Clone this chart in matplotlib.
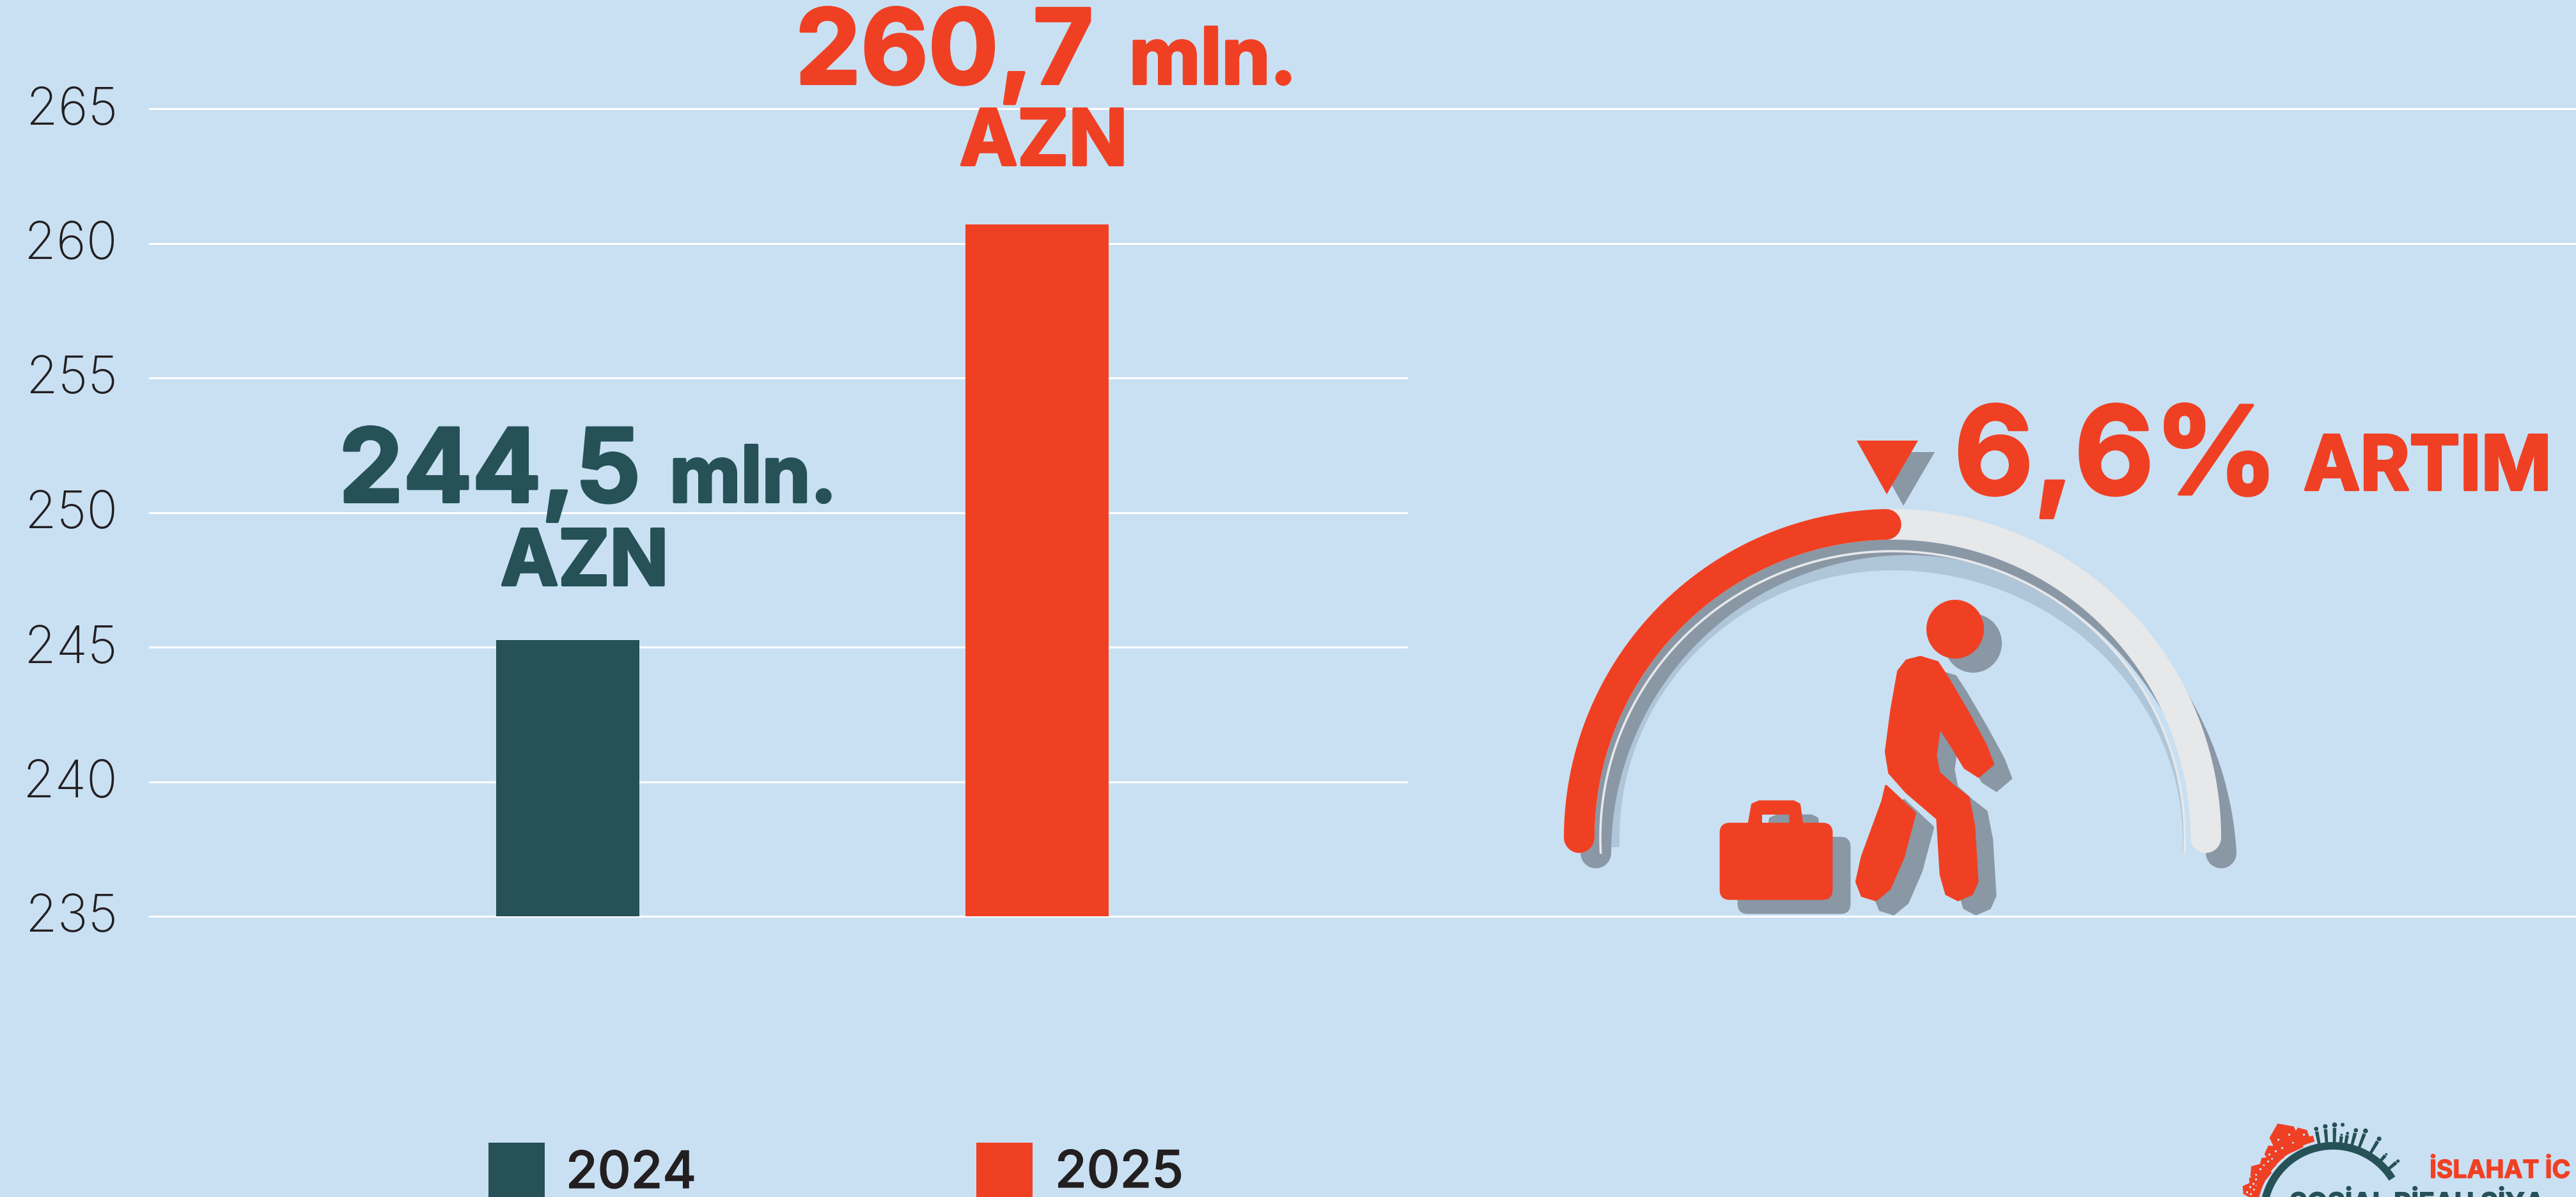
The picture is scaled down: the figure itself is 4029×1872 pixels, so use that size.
import numpy as np
import matplotlib
matplotlib.use('Agg')
import matplotlib.pyplot as plt
import matplotlib.patheffects as pe
from matplotlib.patches import Polygon, Rectangle, Circle, Ellipse, FancyBboxPatch
from matplotlib.transforms import ScaledTranslation

# chart data
years = ['2024', '2025']
bar_values = [245.27, 260.7]
value_labels = ['244,5', '260,7']
y_ticks = [235, 240, 245, 250, 255, 260, 265]
full_width_grid = [235, 260, 265]

# colours
BG = '#c9e0f3'
RED = '#f04023'
DARK = '#255157'
INK = '#231f20'
SHADOW = '#8a97a5'
SHADOW_LIGHT = '#afc5d8'
TRACK = '#e6e8ea'

W, H = 4030, 1872
HEAVY = 'Inter'

fig = plt.figure(figsize=(W / 100, H / 100), dpi=100, facecolor=BG)

# main chart axes, lined up with the gridlines of the picture
AX_L, AX_T, AX_B = 234, 170, 1433
ax = fig.add_axes([AX_L / W, (H - AX_B) / H, (W - AX_L) / W, (AX_B - AX_T) / H])
ax.set_facecolor(BG)
BAR_STEP = 734.5
ax.set_xlim((AX_L - 888) / BAR_STEP, (W - 888) / BAR_STEP)
ax.set_ylim(235, 265)
for s in ax.spines.values():
    s.set_visible(False)
ax.set_xticks([])
ax.set_yticks(y_ticks)
ax.set_yticklabels([str(t) for t in y_ticks], family='Inter', fontweight='light', fontsize=58, color=INK)
ax.tick_params(axis='y', length=0, pad=36)
for lab in ax.get_yticklabels():
    lab.set_transform(lab.get_transform() + ScaledTranslation(0, 5 / 100, fig.dpi_scale_trans))

short_end = (2200 - AX_L) / (W - AX_L)
for t in y_ticks:
    xmax = 1 if t in full_width_grid else short_end
    ax.axhline(t, xmin=0, xmax=xmax, color='white', lw=2.2, zorder=1, clip_on=False)
ax.bar(range(2), np.array(bar_values) - 235, bottom=235, width=224 / BAR_STEP,
       color=[DARK, RED], zorder=2)

# overlay in picture pixels for the labels and the icons
ov = fig.add_axes([0, 0, 1, 1], zorder=5)
ov.set_xlim(0, W)
ov.set_ylim(H, 0)
ov.axis('off')


def label(x, y, s, size, color, weight='bold', family=HEAVY, fat=3.0):
    t = ov.text(x, y, s, fontsize=size, color=color, fontweight=weight, family=family,
                ha='left', va='baseline')
    if fat:
        t.set_path_effects([pe.withStroke(linewidth=fat, foreground=color)])


# value labels
label(530, 785, value_labels[0], 115, DARK)
label(1047, 785, 'mln.', 88, DARK)
label(783, 915, 'AZN', 87, DARK)
label(1244, 131, value_labels[1], 117, RED)
label(1766, 131, 'mln.', 88, RED)
label(1501, 258, 'AZN', 87, RED)

# percent label
label(3056, 773, '6,6%', 138, RED)
label(3603, 766, 'ARTIM', 85, RED)

# legend, cut by the bottom edge like the original
ov.add_patch(Rectangle((764, 1787), 88, 90, color=DARK, lw=0))
ov.add_patch(Rectangle((1527, 1787), 88, 90, color=RED, lw=0))
label(885, 1858, years[0], 58, INK, 'medium', fat=0.8)
label(1650, 1857, years[1], 58, INK, 'medium', fat=0.8)

# gauge
CX, CY, R = 2960, 1310, 490


def shadow_shift(t):
    # the soft shadow hugs the band on the right and falls further on the left
    s = np.where(np.cos(t) < 0, 26.0, 24 - 14 * np.sin(2 * np.clip(t, 0, np.pi / 2)))
    return s


t_band = np.radians(np.linspace(180, 0, 400))
BAND = 48 * 0.72
ov.plot(CX + R * np.cos(t_band) + shadow_shift(t_band), CY - R * np.sin(t_band) + 24,
        color=SHADOW, lw=BAND, solid_capstyle='round')

# light inner shadow, tapers away on the right
inner_rx, inner_ry = 457, 448
t_all = np.radians(np.linspace(182, -3, 400))
thick = np.where(t_all > np.pi / 2, 30, 3 + 27 * np.sin(np.clip(t_all, 0, np.pi / 2)) ** 1.5)
xa = CX + inner_rx * np.cos(t_all)
ya = CY - inner_ry * np.sin(t_all)
xb = CX + (inner_rx - thick) * np.cos(t_all)
yb = CY - (inner_ry - thick) * np.sin(t_all)
ov.fill(np.r_[xa, xb[::-1]], np.r_[ya, yb[::-1]], color=SHADOW_LIGHT, lw=0)

t_line = np.radians(np.linspace(183, -3, 300))
ov.plot(CX + inner_rx * np.cos(t_line), CY - inner_ry * np.sin(t_line), color=TRACK, lw=2.6)
ov.plot(CX + R * np.cos(t_band), CY - R * np.sin(t_band), color=TRACK, lw=BAND, solid_capstyle='round')
t_red = np.radians(np.linspace(180, 91.2, 200))
ov.plot(CX + R * np.cos(t_red), CY - R * np.sin(t_red), color=RED, lw=BAND, solid_capstyle='round')

# pointer triangle
tri = np.array([[2904, 689], [3000, 689], [2951, 773]])
ov.add_patch(Polygon(tri + [26, 18], color=SHADOW, lw=0))
ov.add_patch(Polygon(tri, color=RED, lw=0))

# walking person, outline read in the zoomed crop
ZX, ZY = 1680 / 1568, 860 / 1568


def zoomed(pts):
    return np.array(pts, float) * [ZX, ZY] + [2350, 600]


body = zoomed([(610, 780), (635, 795), (650, 840), (680, 940), (705, 1030), (716, 1085),
               (695, 1120), (675, 1095), (655, 1030), (638, 980), (632, 1060), (637, 1110),
               (660, 1150), (680, 1180), (688, 1260), (693, 1420), (685, 1455), (665, 1472),
               (648, 1455), (640, 1400), (635, 1240), (590, 1165), (565, 1110), (560, 1050),
               (568, 930), (578, 820), (590, 790)])
leg = zoomed([(560, 1148), (602, 1225), (585, 1350), (565, 1440), (545, 1472), (525, 1460),
              (517, 1420), (525, 1350), (540, 1270), (555, 1190)])
handle = zoomed([(360, 1255), (365, 1200), (375, 1192), (425, 1192), (433, 1200), (437, 1255),
                 (421, 1255), (420, 1225), (377, 1225), (377, 1255)])
off = np.array([28, 22])
head = (3058, 984)


def blob(shape, color, edge):
    ov.add_patch(Polygon(shape, fc=color, ec=edge, lw=3, joinstyle='round'))


def case(dx, dy, color):
    x0, y0 = zoomed([(317, 1252)])[0]
    x1, y1 = zoomed([(482, 1472)])[0]
    ov.add_patch(FancyBboxPatch((x0 + 16 + dx, y0 + 16 + dy), x1 - x0 - 32, y1 - y0 - 32,
                                boxstyle='round,pad=16,rounding_size=16', color=color, lw=0))


ov.add_patch(Ellipse((head[0] + off[0], head[1] + off[1]), 90, 92, color=SHADOW, lw=0))
for shape in (body, leg, handle):
    blob(shape + off, SHADOW, SHADOW)
case(off[0], off[1], SHADOW)
ov.add_patch(Ellipse(head, 90, 92, color=RED, lw=0))
for shape in (body, leg, handle):
    blob(shape, RED, RED)
case(0, 0, RED)

# logo, bottom right
LX, LY, LR = 3649, 1901, 109


def logo_arc(a0, a1, r, lw, color):
    t = np.radians(np.linspace(a0, a1, 100))
    ov.plot(LX + r * np.cos(t), LY - r * np.sin(t), color=color, lw=lw, solid_capstyle='butt')


logo_arc(32, 180, LR, 8.5, DARK)
logo_arc(104, 180, LR + 15, 7, RED)

# houses on the red arc: x, y, size, tilt
for hx, hy, sz, rot in [(3599, 1777, 12, -20), (3573, 1780, 21, -25), (3555, 1804, 12, -30),
                        (3545, 1820, 10, -40), (3533, 1834, 13, -50), (3527, 1848, 9, -60),
                        (3518, 1861, 10, -60)]:
    tt = np.radians(rot)
    rot_m = np.array([[np.cos(tt), -np.sin(tt)], [np.sin(tt), np.cos(tt)]])
    house = np.array([[-1, 1.2], [-1, -0.5], [0, -1.2], [1, -0.5], [1, 1.2]]) * sz
    ov.add_patch(Polygon(house @ rot_m.T + [hx, hy], color=RED, lw=0))
    if sz >= 9:
        for wx in (-0.45, 0.45):
            for wy in (-0.1, 0.6):
                wpos = np.array([wx, wy]) * sz @ rot_m.T + [hx, hy]
                ov.add_patch(Rectangle(wpos - 1.5, 3, 3, color=BG, lw=0))

# people on the dark arc: angle, height
for ang, ht in [(101, 28), (95, 30), (89, 32), (84, 16), (80, 20), (75, 28), (69, 32), (59, 30), (49, 16), (40, 22)]:
    a = np.radians(ang)
    base = np.array([LX + (LR + 3) * np.cos(a), LY - (LR + 3) * np.sin(a)])
    up = np.array([np.cos(a), -np.sin(a)])
    side = np.array([up[1], -up[0]])
    b = np.array([base - side * 2.2, base + side * 2.2, base + up * ht * 0.78 + side * 2.8,
                  base + up * ht * 0.78 - side * 2.8])
    ov.add_patch(Polygon(b, color=DARK, lw=0))
    ov.add_patch(Circle(base + up * ht * 0.93, ht * 0.12, color=DARK, lw=0))
ov.add_patch(Circle((3664, 1759), 3, color=DARK, lw=0))

# logo text runs past the right and bottom edges of the picture
label(3800, 1842, 'İSLAHAT İC', 28, RED, 'bold', 'Inter', fat=1.0)
label(3581, 1895, 'SOSİAL RİFAH SİYA', 30, DARK, 'bold', 'Inter', fat=1.0)

fig.savefig('out.png', dpi=100, facecolor=BG)
